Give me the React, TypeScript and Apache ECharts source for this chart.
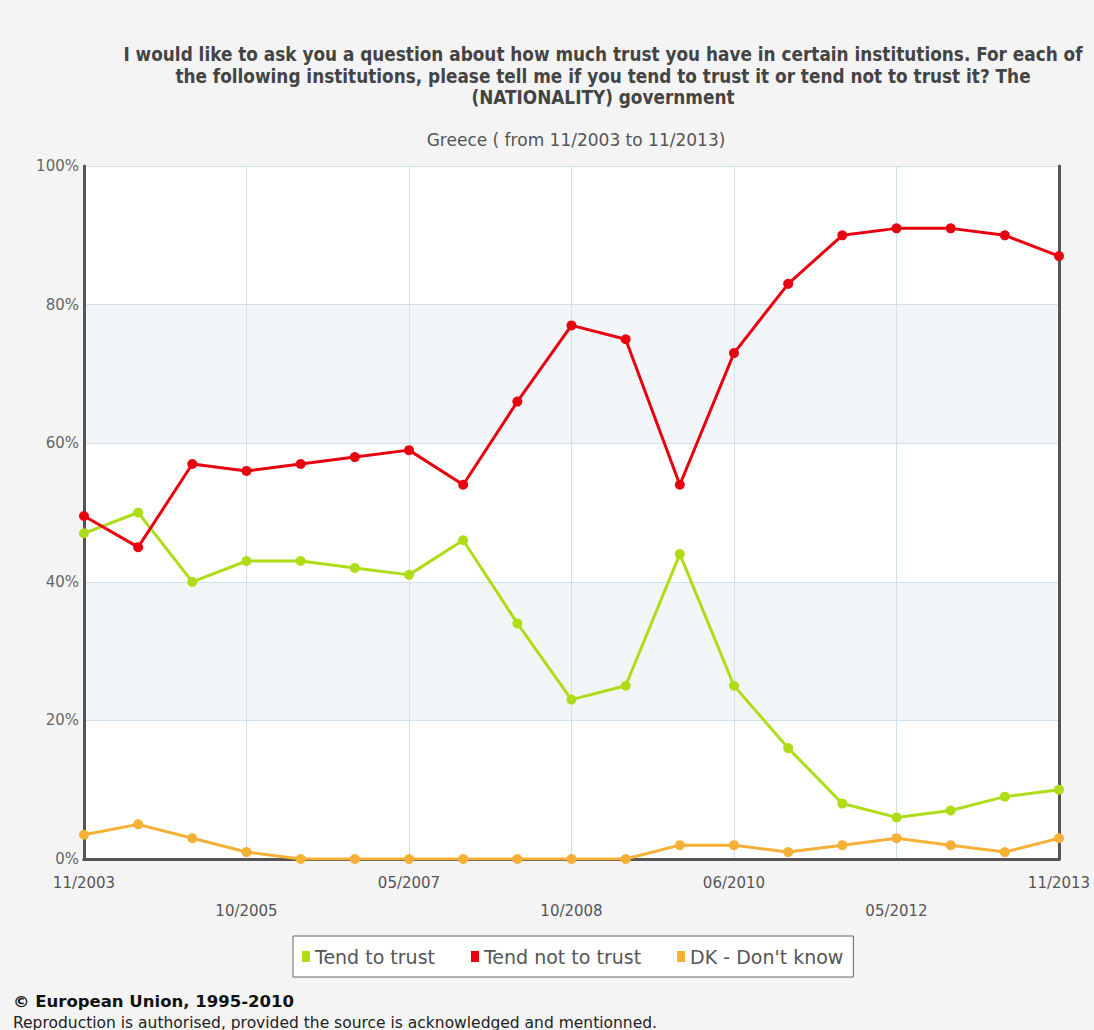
import React, { useEffect, useRef } from "react";
import * as echarts from "echarts";

const categories = [
  "11/2003", "04/2004", "11/2004", "10/2005", "04/2006", "10/2006", "05/2007",
  "10/2007", "04/2008", "10/2008", "06/2009", "11/2009", "06/2010", "11/2010",
  "11/2011", "05/2012", "11/2012", "05/2013", "11/2013",
];
const trust = [47, 50, 40, 43, 43, 42, 41, 46, 34, 23, 25, 44, 25, 16, 8, 6, 7, 9, 10];
const notTrust = [49.5, 45, 57, 56, 57, 58, 59, 54, 66, 77, 75, 54, 73, 83, 90, 91, 91, 90, 87];
const dontKnow = [3.5, 5, 3, 1, 0, 0, 0, 0, 0, 0, 0, 2, 2, 1, 2, 3, 2, 1, 3];
const yTicks = [0, 20, 40, 60, 80, 100];

const TITLE =
  "I would like to ask you a question about how much trust you have in certain institutions. For each of\nthe following institutions, please tell me if you tend to trust it or tend not to trust it? The\n(NATIONALITY) government";
const SUBTITLE = "Greece ( from 11/2003 to 11/2013)";

export default function App() {
  const ref = useRef<HTMLDivElement>(null);
  useEffect(() => {
    if (!ref.current) return;
    const chart = echarts.init(ref.current, undefined, { renderer: "svg" });
    const font = "DejaVu Sans";
    const border = { show: true, lineStyle: { color: "#555", width: 3 } };
    const mk = (name: string, data: number[], color: string) => ({
      name,
      type: "line",
      data,
      symbol: "circle",
      symbolSize: 10,
      lineStyle: { color, width: 3 },
      itemStyle: { color },
      z: 5,
    });
    chart.setOption({
      animation: false,
      backgroundColor: "#f4f4f5",
      title: [
        {
          text: TITLE,
          left: 598,
          textAlign: "center",
          top: 39,
          textStyle: {
            fontFamily: "DejaVu Sans Condensed",
            fontWeight: "bold",
            fontSize: 18.8,
            lineHeight: 21.5,
            color: "#444",
          },
        },
        {
          text: SUBTITLE,
          left: 571,
          textAlign: "center",
          top: 126,
          textStyle: { fontFamily: font, fontWeight: "normal", fontSize: 17, color: "#555" },
        },
        {
          text: "© European Union, 1995-2010",
          left: 8,
          top: 987,
          textStyle: { fontFamily: font, fontWeight: "bold", fontSize: 16.5, lineHeight: 19, color: "#111" },
        },
        {
          text: "Reproduction is authorised, provided the source is acknowledged and mentionned.",
          left: 8,
          top: 1009,
          textStyle: { fontFamily: font, fontWeight: "normal", fontSize: 15.5, lineHeight: 17, color: "#222" },
        },
      ],
      legend: {
        data: ["Tend to trust", "Tend not to trust", "DK - Don't know"],
        left: 293,
        top: 936,
        backgroundColor: "#fff",
        borderColor: "#666",
        borderWidth: 1,
        borderRadius: 0,
        padding: [11, 10, 11, 9],
        itemGap: 36,
        itemWidth: 8,
        itemHeight: 11,
        icon: "rect",
        textStyle: { fontFamily: font, fontSize: 19, color: "#555" },
      },
      grid: {
        left: 84,
        right: 35,
        top: 166,
        height: 693,
        show: true,
        backgroundColor: "#fff",
        borderWidth: 0,
      },
      xAxis: [
        {
          type: "category",
          data: categories,
          boundaryGap: false,
          axisLine: border,
          axisTick: { show: false },
          axisLabel: {
            interval: 2,
            margin: 10,
            fontFamily: font,
            fontSize: 15,
            color: "#555",
            lineHeight: 28,
            formatter: (v: string, i: number) => (i % 6 === 3 ? "\n" + v : v),
          },
          splitLine: { show: true, interval: 2, lineStyle: { color: "#cfe0ee", width: 1 } },
        },
        {
          type: "category",
          data: categories,
          boundaryGap: false,
          position: "top",
          axisLine: border,
          axisTick: { show: false },
          axisLabel: { show: false },
          splitLine: { show: false },
        },
      ],
      yAxis: [
        {
          type: "value",
          min: yTicks[0],
          max: yTicks[yTicks.length - 1],
          interval: 20,
          axisLine: border,
          axisTick: { show: false },
          axisLabel: {
            formatter: "{value}%",
            margin: 5,
            fontFamily: font,
            fontSize: 15,
            color: "#666",
          },
          splitLine: { show: true, lineStyle: { color: "#cfe0ee", width: 1 } },
          splitArea: { show: true, areaStyle: { color: ["#ffffff", "#f3f6f9"] } },
        },
        {
          type: "value",
          min: yTicks[0],
          max: yTicks[yTicks.length - 1],
          interval: 20,
          position: "right",
          axisLine: border,
          axisTick: { show: false },
          axisLabel: { show: false },
          splitLine: { show: false },
        },
      ],
      series: [
        mk("Tend to trust", trust, "#aedd17"),
        mk("Tend not to trust", notTrust, "#e8000e"),
        mk("DK - Don't know", dontKnow, "#f6b035"),
      ],
    });
    return () => chart.dispose();
  }, []);
  return (
    <div
      ref={ref}
      style={{ position: "absolute", left: 0, top: 0, width: 1094, height: 1030 }}
    />
  );
}
